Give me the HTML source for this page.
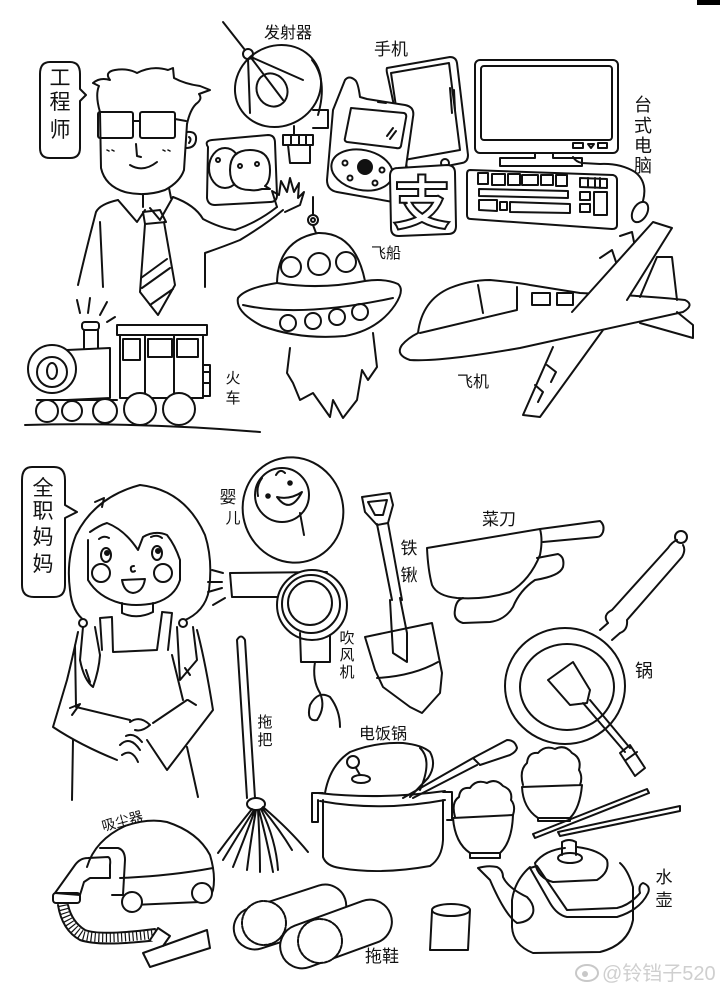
<!DOCTYPE html>
<html><head><meta charset="utf-8"><style>
html,body{margin:0;padding:0;background:#fff;}
svg{display:block}
text{font-family:"Liberation Sans","Noto Sans CJK SC",sans-serif;fill:#111;stroke:none;}
</style></head><body>
<svg width="720" height="990" viewBox="0 0 720 990" xmlns="http://www.w3.org/2000/svg">
<rect width="720" height="990" fill="#fff"/>
<rect x="697" y="0" width="23" height="5" fill="#000"/>
<g fill="none" stroke="#111" stroke-width="2" stroke-linecap="round" stroke-linejoin="round">
<!-- engineer bubble -->
<path d="M50,62 Q40,62 40,74 L40,148 Q40,158 50,158 L70,158 Q80,158 80,148 L80,101 L86,95 L80,89 L80,74 Q80,62 70,62 Z"/>
<!-- engineer -->
<path d="M100,112 Q95,95 99,86 L93,83 Q100,77 110,80 Q104,72 115,70 Q128,68 137,73 Q152,65 168,70 L173,68 L174,78 Q185,84 200,86 L210,90 L199,94 Q203,99 196,104 Q190,110 187,124"/>
<path d="M100,112 L101,168 Q105,186 125,192 Q145,197 165,190 Q180,182 184,170 L187,124"/>
<rect x="98" y="112" width="35" height="26" rx="2"/><rect x="140" y="112" width="35" height="26" rx="2"/>
<path d="M133,121 L140,121 M175,119 L186,121"/>
<path d="M187,132 Q197,131 196,140 Q195,148 186,148 M189,137 Q192,139 189,143"/>
<path d="M136,144 L137,156 L141,157 M130,165 Q143,173 157,162"/>
<path stroke-width="1.5" d="M107,150 l2,1 M112,150 l2,1 M163,150 l2,1 M168,150 l2,1"/>
<path d="M143,194 L143,207 M169,188 L171,198 M118,200 L137,222 L145,210 M173,197 L160,220 L150,208"/>
<path d="M118,200 Q100,204 96,212 Q86,250 78,285 M100,222 L103,287 M173,197 Q195,205 203,219 Q220,228 235,230 Q258,222 277,207 M205,253 Q225,246 240,240 Q265,225 283,210 M205,253 L205,287"/>
<path d="M277,207 L272,191 L279,195 L281,181 L287,192 L290,178 L294,192 L299,183 L298,198 L304,192 L300,205 L285,212"/>
<path d="M143,212 L160,210 L166,222 L145,224 Z M145,224 L140,292 L158,315 L175,285 L164,222 M141,278 L167,259 M142,288 L170,268 M150,305 L173,289"/>
<!-- wechat -->
<path d="M208,147 Q204,141 212,140 L268,135 Q275,135 275,143 L277,195 Q277,202 270,202 L215,205 Q208,205 207,198 Z"/>
<ellipse cx="225" cy="168" rx="16" ry="20"/>
<path d="M250,150 Q270,150 270,170 Q270,182 265,186 L270,189 L262,189 Q256,191 250,190 Q230,190 230,170 Q230,150 250,150 Z" fill="#fff"/>
<circle cx="218" cy="160" r="2"/><circle cx="240" cy="166" r="2"/><circle cx="257" cy="164" r="2"/>
<!-- satellite -->
<path d="M223,22 L245,50"/><circle cx="248" cy="54" r="5"/>
<ellipse cx="278" cy="86" rx="44" ry="40" transform="rotate(-30 278 86)"/>
<path d="M312,60 Q328,80 318,115"/>
<ellipse cx="272" cy="90" rx="15" ry="17" transform="rotate(-30 272 90)"/>
<path d="M251,57 L303,80 M248,59 L250,113 M252,59 L283,100"/>
<path d="M313,110 L328,110 L328,128 L313,128 M283,135 L313,135 L313,145 L283,145 Z M291,135 L291,145 M299,135 L299,145 M306,135 L306,145 M288,145 L290,163 L310,163 L310,145 M294,126 L294,135"/>
<!-- tablet (behind) -->
<path d="M387,68 L450,57 Q456,57 457,63 L468,155 Q468,162 462,163 L417,172 L407,168 L388,77 Q386,70 387,68 Z" fill="#fff"/>
<path d="M391,73 L449,63 L460,150 L404,160 Z"/>
<path d="M450,88 L452,113 M454,90 L455,110"/>
<circle cx="445" cy="163" r="4"/>
<!-- old phone (front) -->
<path d="M355,80 Q349,75 345,80 L333,110 L327,180 Q327,190 337,192 L393,202 Q400,203 402,195 L413,117 Q415,107 405,105 L367,99 L360,97 Q358,82 355,80 Z" fill="#fff"/>
<path d="M351,108 L404,113 Q407,114 406,118 L401,146 Q400,149 396,148 L347,142 Q344,141 345,138 Z"/>
<path d="M378,102 L386,103"/>
<path d="M387,136 L393,128 M390,139 L396,131"/>
<ellipse cx="362" cy="170" rx="31" ry="20" transform="rotate(12 362 170)"/>
<circle cx="365" cy="167" r="7" fill="#111"/>
<circle cx="345" cy="163" r="2.5"/><circle cx="382" cy="170" r="2.5"/><circle cx="350" cy="178" r="2.5"/><circle cx="375" cy="183" r="2.5"/>
<!-- alipay -->
<path d="M398,168 L447,165 Q455,165 455,173 L456,226 Q456,234 448,234 L399,236 Q391,236 391,228 L390,176 Q390,168 398,168 Z" fill="#fff"/>
<!-- monitor -->
<rect x="475" y="60" width="143" height="93" rx="5"/>
<rect x="481" y="66" width="131" height="74" rx="3"/>
<path d="M573,143 L583,143 L583,148 L573,148 Z M588,144 L594,144 L591,148 Z M598,143 L607,143 L607,148 L598,148 Z"/>
<path d="M535,153 L535,158 L500,158 L500,166 L582,166 L582,158 L553,158 L553,153"/>
<!-- keyboard -->
<path d="M470,170 L613,175 Q617,176 617,180 L617,225 Q617,229 612,229 L471,219 Q467,219 467,215 L467,174 Q467,170 470,170 Z"/>
<path d="M478,173 L488,173 L488,184 L478,184 Z M492,174 L505,174 L505,185 L492,185 Z M508,174 L520,174 L520,185 L508,185 Z M522,175 L538,175 L538,185 L522,185 Z M541,175 L553,175 L553,185 L541,185 Z M556,175 L567,175 L567,186 L556,186 Z"/>
<path d="M479,189 L568,191 L568,198 L479,196 Z M479,200 L497,200 L497,211 L479,210 Z M500,202 L507,202 L507,210 L500,210 Z M510,202 L570,204 L570,213 L510,212 Z"/>
<path d="M580,178 L607,179 L607,188 L580,187 Z M588,178 L588,187 M595,178 L595,188 M600,178 L600,188 M580,192 L590,192 L590,200 L580,200 Z M594,192 L607,192 L607,215 L594,215 Z M580,204 L590,204 L590,212 L580,212 Z"/>
<!-- mouse -->
<ellipse cx="640" cy="212" rx="7" ry="11" transform="rotate(30 640 212)"/>
<path d="M643,201 Q648,182 635,172 Q620,163 600,164 L582,163 Q576,162 573,157"/>
<!-- spaceship -->
<path d="M313,197 L313,214"/><circle cx="313" cy="220" r="5"/><circle cx="313" cy="220" r="2"/><path d="M313,225 L316,233"/>
<path d="M277,283 Q245,288 238,298 Q235,312 262,326 Q300,340 345,336 Q378,330 395,305 Q405,290 398,284 Q385,278 365,281"/>
<path d="M277,283 Q278,240 318,233 Q355,232 365,281"/>
<path d="M277,283 Q320,290 365,281"/>
<circle cx="291" cy="267" r="10"/><circle cx="319" cy="264" r="11"/><circle cx="346" cy="262" r="10"/>
<path d="M243,305 Q300,318 393,298"/>
<circle cx="288" cy="323" r="8"/><circle cx="313" cy="321" r="8"/><circle cx="337" cy="317" r="8"/><circle cx="360" cy="312" r="8"/>
<path d="M290,348 L287,373 L293,383 L300,400 L313,393 L330,417 L333,400 L343,418 L357,400 L362,370 L368,380 L377,367 L373,333"/>
<!-- airplane -->
<path d="M418,333 Q422,300 450,288 Q470,280 490,280 Q520,283 530,285 L580,293 Q650,296 685,300 Q695,305 683,312 Q600,330 520,348 Q440,362 410,360 Q395,355 402,345 Q408,338 418,333 Z" fill="#fff"/>
<path d="M420,333 L517,310 M478,285 L483,313 M517,287 L517,309"/>
<rect x="532" y="293" width="18" height="12"/><rect x="557" y="293" width="16" height="12"/>
<path d="M572,312 L653,222 L672,228 L627,300" fill="#fff"/>
<path d="M600,258 L612,250 L616,262 M620,236 L632,232 L634,242"/>
<path d="M657,257 L672,257 L677,300 M657,257 L640,297"/>
<path d="M677,312 L693,325 L693,338 L640,323"/>
<path d="M603,330 L540,417 L523,415 L553,347" fill="#fff"/>
<path d="M547,365 L556,372 L551,382 M535,385 L543,392 L538,402"/>
<!-- train -->
<path d="M25,425 Q140,422 260,432"/>
<path d="M77,300 L80,313 M90,298 L88,313 M107,302 L100,315 M115,317 L107,322"/>
<rect x="82" y="322" width="17" height="8" rx="3"/><path d="M84,330 L84,348 M98,330 L98,348"/>
<path d="M67,350 L110,348 L110,398 L67,400"/>
<circle cx="52" cy="369" r="24" fill="#fff"/><circle cx="52" cy="372" r="15"/><ellipse cx="52" cy="371" rx="5" ry="8"/>
<path d="M117,325 L207,325 L207,335 L117,335 Z M120,335 L120,398 L203,398 L203,335 M145,335 L145,398 M174,335 L174,398"/>
<rect x="123" y="339" width="17" height="21"/><rect x="148" y="339" width="24" height="18"/><rect x="177" y="339" width="21" height="18"/>
<path d="M203,365 L210,365 L210,396 L203,396 M204,372 L209,372 M204,383 L209,383"/>
<path d="M37,400 L117,400"/>
<circle cx="47" cy="411" r="11" fill="#fff"/><circle cx="72" cy="411" r="10" fill="#fff"/><circle cx="105" cy="411" r="12" fill="#fff"/><circle cx="140" cy="409" r="16" fill="#fff"/><circle cx="179" cy="409" r="16" fill="#fff"/>
<!-- mom bubble -->
<path d="M32,467 Q22,467 22,480 L22,585 Q22,597 34,597 L54,597 Q65,597 65,585 L65,518 L77,512 L65,505 L65,480 Q65,467 54,467 Z"/>
<!-- girl -->
<path d="M85,621 Q72,612 70,590 Q66,560 76,535 Q95,497 140,485 Q185,490 205,535 Q213,560 209,590 Q205,612 183,621"/>
<path d="M95,502 L104,498 L102,507"/>
<path d="M90,532 Q100,525 107,523 Q125,530 138,550 L143,537 Q155,530 167,535 Q175,545 180,560 L180,580 Q175,597 155,603 Q135,607 120,603 Q98,597 88,580 L88,540"/>
<ellipse cx="106" cy="555" rx="5" ry="7"/><ellipse cx="157" cy="553" rx="5" ry="7"/>
<circle cx="107" cy="553" r="2" fill="#111"/><circle cx="158" cy="551" r="2" fill="#111"/>
<path d="M99,539 Q104,535 109,538 M151,537 Q157,534 162,538"/>
<circle cx="101" cy="573" r="9"/><circle cx="163" cy="573" r="9"/>
<path d="M134,566 Q130,566 131,570 Q132,573 135,571"/>
<path d="M122,580 L145,579 Q143,592 133,593 Q124,592 122,580 Z"/>
<path d="M122,603 L122,613 M153,603 L153,612 M122,613 Q137,620 153,612"/>
<path d="M112,618 L113,652 L157,650 L162,613 M112,617 L100,618 L102,650 M162,612 L172,613 L168,650"/>
<path d="M83,627 L80,660 Q84,680 93,687 Q99,670 100,655 L95,627 M86,670 L90,682"/>
<path d="M177,627 L180,680 L197,660 L193,627 M185,668 L190,675"/>
<circle cx="83" cy="623" r="4" fill="#fff"/><circle cx="183" cy="623" r="4" fill="#fff"/>
<path d="M78,632 Q72,660 67,680 L53,727 Q80,745 117,760 M75,645 L76,707 L130,720 M73,740 L72,800"/>
<path d="M197,630 Q205,660 213,710 L167,770 L147,740 M187,700 L153,723 M187,747 L198,797 M172,655 L183,700"/>
<path d="M70,708 L80,704 L72,715 M188,700 L196,705"/>
<path d="M130,722 Q140,715 150,725 Q142,732 135,730 M120,745 Q130,735 140,750 M122,755 Q132,748 138,762 M126,736 Q134,732 142,742"/>
<!-- baby -->
<ellipse cx="293" cy="510" rx="50" ry="53" transform="rotate(-20 293 510)"/>
<circle cx="282" cy="495" r="27"/>
<circle cx="268" cy="496" r="1.8" fill="#111"/><circle cx="290" cy="483" r="1.8" fill="#111"/>
<path d="M277,497 Q290,515 302,492 Q290,500 277,497 Z"/>
<path d="M276,475 Q280,468 285,473 M300,513 L304,535 M262,478 Q256,486 258,496"/>
<!-- hair dryer -->
<path d="M212,570 L223,573 M208,582 L222,582 M208,592 L222,588 M213,605 L225,598"/>
<path d="M277,597 L232,597 L230,573 L327,572"/>
<circle cx="312" cy="605" r="35" fill="#fff"/><circle cx="311" cy="604" r="29"/><circle cx="310" cy="603" r="22"/>
<path d="M300,633 L301,662 L330,662 L330,635"/>
<path d="M315,662 Q312,680 320,693 Q326,707 317,720 Q306,722 310,705 Q318,690 330,697 Q340,710 340,727"/>
<!-- mop -->
<path d="M237,640 L247,798 M245,640 L255,798 M237,640 Q241,633 245,640"/>
<ellipse cx="256" cy="804" rx="9" ry="6"/>
<path d="M252,809 Q235,830 218,853 M254,810 Q238,835 223,860 M255,810 Q244,840 233,867 M256,810 Q250,845 247,870 M258,810 Q260,845 260,872 M259,810 Q268,845 273,872 M261,809 Q276,840 278,870 M262,808 Q280,830 292,850 M263,807 Q290,830 308,852"/>
<!-- shovel -->
<path d="M362,497 L390,493 L393,505 L388,523 L377,525 L365,512 Z M368,502 L387,500 L383,515 L375,515 Z"/>
<path d="M377,524 L392,600 M388,523 L402,600"/>
<path d="M365,637 L432,623 L442,673 L440,693 L422,713 L410,707 L383,687 L375,670 Z"/>
<path d="M390,600 L393,653 L407,662 L407,633 L400,598 M377,678 Q413,676 438,662"/>
<!-- cleaver -->
<path d="M427,548 L540,529 Q543,540 540,555 Q530,580 510,592 Q485,600 457,598 Q437,596 432,585 Q428,570 427,548 Z"/>
<path d="M540,529 L600,521 Q605,525 603,532 Q601,537 597,537 L543,542"/>
<path d="M537,558 L558,554 Q565,557 563,567 Q560,576 535,580 Q520,590 513,607 Q505,620 490,622 L463,623 Q453,620 455,610 Q456,600 463,598"/>
<!-- pan -->
<ellipse cx="565" cy="686" rx="60" ry="58"/>
<ellipse cx="567" cy="687" rx="47" ry="43"/>
<path d="M600,630 L608,623 M612,640 L620,633"/>
<path d="M608,623 Q602,615 612,610 L668,548 Q672,542 677,540 M620,633 Q628,630 627,620 L682,557 Q686,550 683,545"/>
<circle cx="681" cy="537" r="6"/>
<path d="M548,680 L573,662 L590,690 L587,703 L570,705 Z M583,703 L625,752 M590,700 L630,748 M620,753 L630,745 L645,768 L635,776 Z M626,760 L637,752"/>
<!-- rice cooker -->
<path d="M325,793 Q330,765 350,752 Q375,742 403,743 Q422,745 430,752 Q437,765 428,778 L410,797 M420,748 Q433,760 420,790"/>
<circle cx="353" cy="762" r="6"/><path d="M356,768 L360,775"/><ellipse cx="361" cy="779" rx="9" ry="4"/>
<path d="M403,798 L473,758 M413,798 L477,765 M473,758 L507,740 Q515,740 517,748 Q516,752 510,755 L480,765 Z"/>
<path d="M318,793 Q380,800 445,791 M320,801 Q380,812 445,800"/>
<path d="M323,800 L323,857 Q326,866 340,868 Q380,875 430,866 Q442,858 443,840 L443,800"/>
<path d="M323,793 L312,793 L312,822 L318,822 L318,800 M443,792 L452,792 L452,820 L447,820"/>
<!-- bowls -->
<path d="M455,817 Q451,802 459,797 Q460,787 470,788 Q476,779 487,783 Q496,778 503,786 Q513,790 511,800 Q516,806 513,815"/>
<path d="M453,818 L513,815 M453,818 Q455,843 470,853 L500,853 Q512,842 513,815 M470,853 L470,858 L500,858 L500,853"/>
<path d="M523,785 Q519,770 527,763 Q528,752 538,753 Q545,745 555,749 Q565,744 572,753 Q582,758 579,770 Q583,777 580,785"/>
<path d="M522,787 L582,785 M522,787 Q523,808 538,818 L570,818 Q580,808 582,785 M538,818 L538,821 L570,821 L570,818"/>
<path d="M533,834 L647,789 L649,793 L535,838 Z M558,832 L680,806 L680,811 L560,836 Z"/>
<!-- kettle -->
<path d="M530,867 Q515,880 512,900 L512,927 Q513,945 533,953 L600,952 Q628,945 633,920 L633,887 Q628,870 620,863"/>
<path d="M535,863 Q545,850 565,848 M577,847 Q600,850 607,860 Q610,872 597,880 L553,882 Q538,878 535,863"/>
<path d="M562,855 L562,842 Q569,838 576,842 L576,855"/><ellipse cx="570" cy="858" rx="12" ry="5"/>
<path d="M530,868 L550,903 Q557,915 567,917 L617,917 Q640,910 648,893 Q651,886 643,883 Q638,885 640,893 Q630,905 617,908 L567,910 L537,866 Z"/>
<path d="M490,880 L478,868 Q488,865 497,867 Q503,870 503,877 Q508,888 527,897 Q535,905 533,913 Q530,922 517,923 Q505,915 490,880 Z"/>
<!-- cup -->
<ellipse cx="451" cy="910" rx="19" ry="6"/>
<path d="M432,911 L430,950 L468,950 L470,910"/>
<!-- vacuum -->
<path d="M87,867 Q95,840 125,826 Q148,818 167,822 Q198,832 210,855 Q216,875 213,890 Q210,900 200,902 L133,905"/>
<path d="M120,878 Q170,876 213,868"/>
<path d="M100,848 L118,848 Q125,850 125,860 L123,895 L112,895"/>
<path d="M88,858 L108,857 Q111,858 110,865 L110,878 L90,878 M88,858 Q80,858 75,865 L55,893 L80,895 L84,882 L90,878"/>
<rect x="53" y="893" width="27" height="10" rx="3"/>
<circle cx="132" cy="902" r="10" fill="#fff"/><circle cx="202" cy="893" r="10" fill="#fff"/>
<path d="M58,905 Q62,930 80,940 Q100,947 157,940 M68,905 Q72,922 85,930 Q100,936 155,929"/>
<path stroke-width="9" stroke-linecap="butt" stroke-dasharray="1.2 2.6" d="M63,905 Q67,926 82,935 Q100,941 156,934"/>
<path d="M143,953 L207,930 L210,948 L150,967 Z M150,940 L158,928 L170,936 L163,946" fill="#fff"/>
<!-- slippers -->
<rect x="-58" y="-21" width="116" height="42" rx="21" transform="translate(290,917) rotate(-18)" fill="#fff"/>
<circle cx="264" cy="923" r="22" fill="#fff" stroke-dasharray="3 1.5"/>
<rect x="-58" y="-22" width="116" height="44" rx="22" transform="translate(336,934) rotate(-20)" fill="#fff"/>
<circle cx="320" cy="941" r="22" fill="#fff" stroke-dasharray="3 1.5"/>
</g>
<!-- alipay glyph -->
<text x="422" y="224" font-size="58" text-anchor="middle" style="fill:#fff;stroke:#111;stroke-width:2;font-weight:bold">支</text>
<!-- labels -->
<g font-size="21" text-anchor="middle">
<text x="60" y="85">工</text><text x="60" y="109">程</text><text x="60" y="137">师</text>
<text x="43" y="495">全</text><text x="43" y="518">职</text><text x="43" y="544">妈</text><text x="43" y="571">妈</text>
</g>
<g font-size="16" text-anchor="middle">
<text x="288" y="38">发射器</text>
<text x="391" y="55" font-size="17">手机</text>
<text x="386" y="258" font-size="15">飞船</text>
<text x="473" y="387">飞机</text>
<text x="643" y="111" font-size="18">台</text><text x="643" y="132" font-size="18">式</text><text x="643" y="152" font-size="18">电</text><text x="643" y="172" font-size="18">脑</text>
<text x="233" y="383" font-size="15">火</text><text x="233" y="403" font-size="15">车</text>
<text x="228" y="503" font-size="17">婴</text><text x="233" y="523" font-size="15">儿</text>
<text x="347" y="643" font-size="15">吹</text><text x="347" y="660" font-size="15">风</text><text x="347" y="677" font-size="15">机</text>
<text x="265" y="727" font-size="15">拖</text><text x="265" y="745" font-size="15">把</text>
<text x="409" y="554" font-size="17">铁</text><text x="409" y="581" font-size="17">锹</text>
<text x="499" y="525" font-size="17">菜刀</text>
<text x="644" y="677" font-size="18">锅</text>
<text x="383" y="739">电饭锅</text>
<text x="664" y="883" font-size="17">水</text><text x="664" y="906" font-size="17">壶</text>
<text x="382" y="962" font-size="17">拖鞋</text>
<text x="122" y="826" font-size="14" transform="rotate(-15 122 820)">吸尘器</text>
</g>
<!-- watermark -->
<ellipse cx="587" cy="973" rx="11" ry="8" fill="none" stroke="#c8c8c8" stroke-width="2"/>
<circle cx="585" cy="974" r="3" fill="#c8c8c8"/>
<text x="602" y="980" font-size="20" style="fill:#cfcfcf">@铃铛子520</text>
</svg>
</body></html>
